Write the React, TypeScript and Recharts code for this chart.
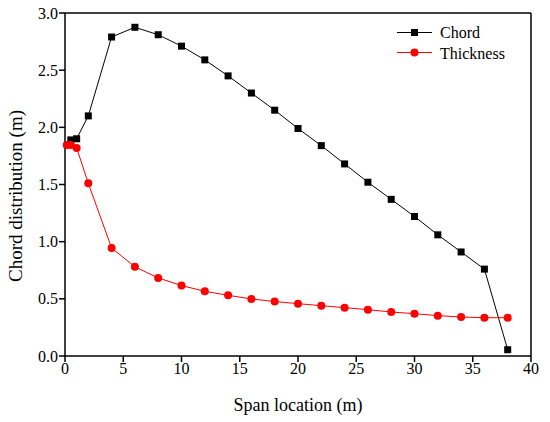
import React from "react";
import { LineChart, Line, XAxis, YAxis, ReferenceLine } from "recharts";

const chordX = [0.5, 1, 2, 4, 6, 8, 10, 12, 14, 16, 18, 20, 22, 24, 26, 28, 30, 32, 34, 36, 38];
const chordY = [1.89, 1.9, 2.1, 2.79, 2.875, 2.81, 2.71, 2.59, 2.45, 2.3, 2.15, 1.99, 1.84, 1.68, 1.52, 1.37, 1.22, 1.06, 0.91, 0.76, 0.055];
const thickX = [0.15, 0.5, 1, 2, 4, 6, 8, 10, 12, 14, 16, 18, 20, 22, 24, 26, 28, 30, 32, 34, 36, 38];
const thickY = [1.845, 1.845, 1.82, 1.51, 0.945, 0.78, 0.683, 0.616, 0.566, 0.531, 0.499, 0.476, 0.458, 0.44, 0.423, 0.405, 0.385, 0.37, 0.353, 0.341, 0.335, 0.335];
const xTicks = [0, 5, 10, 15, 20, 25, 30, 35, 40];
const yTicks = [0, 0.5, 1, 1.5, 2, 2.5, 3];
const seriesNames = ["Chord", "Thickness"];

const chordData = chordX.map((x, i) => ({ x, y: chordY[i] }));
const thickData = thickX.map((x, i) => ({ x, y: thickY[i] }));

const FONT = "Liberation Serif";

const SquareDot = (props: any) => {
  const { cx, cy, index } = props;
  if (cx == null || cy == null) return null;
  return <rect key={`s${index}`} x={cx - 3.5} y={cy - 3.5} width={7} height={7} fill="#000" />;
};

const CircleDot = (props: any) => {
  const { cx, cy, index } = props;
  if (cx == null || cy == null) return null;
  return <circle key={`c${index}`} cx={cx} cy={cy} r={4} fill="#ff0000" />;
};

const XTick = (props: any) => {
  const { x, y, payload } = props;
  return (
    <text x={x} y={y + 12} textAnchor="middle" fontFamily={FONT} fontSize={16} fill="#000">
      {String(payload.value)}
    </text>
  );
};

const YTick = (props: any) => {
  const { x, y, payload } = props;
  return (
    <text x={x} y={y + 5.5} textAnchor="end" fontFamily={FONT} fontSize={16} fill="#000">
      {Number(payload.value).toFixed(1)}
    </text>
  );
};

const YLabel = () => (
  <text x={15} y={196} transform="rotate(-90 15 196)" textAnchor="middle" dominantBaseline="central" fontFamily={FONT} fontSize={19} fill="#000">
    Chord distribution (m)
  </text>
);

const XLabel = () => (
  <text x={298} y={411} textAnchor="middle" fontFamily={FONT} fontSize={18} fill="#000">
    Span location (m)
  </text>
);

export default function App() {
  return (
    <div style={{ position: "absolute", left: 0, top: 0, width: 550, height: 422, background: "#fff", fontFamily: FONT }}>
      <LineChart width={550} height={422} margin={{ top: 13, right: 19, left: 0, bottom: 0 }}>
        <XAxis
          type="number"
          dataKey="x"
          domain={[0, 40]}
          ticks={xTicks}
          allowDuplicatedCategory={false}
          height={66}
          stroke="#000"
          strokeWidth={1.5}
          tickSize={6}
          tickMargin={0}
          tick={XTick}
          label={{ content: XLabel }}
        />
        <YAxis
          type="number"
          dataKey="y"
          domain={[0, 3]}
          ticks={yTicks}
          width={65}
          stroke="#000"
          strokeWidth={1.5}
          tickSize={6}
          tickMargin={1}
          tick={YTick}
          label={{ content: YLabel }}
        />
        <ReferenceLine y={3} stroke="#000" strokeWidth={1.5} ifOverflow="visible" />
        <ReferenceLine x={40} stroke="#000" strokeWidth={1.5} ifOverflow="visible" />
        <Line data={chordData} dataKey="y" name={seriesNames[0]} stroke="#000" strokeWidth={1} dot={SquareDot} activeDot={false} isAnimationActive={false} />
        <Line data={thickData} dataKey="y" name={seriesNames[1]} stroke="#ff0000" strokeWidth={1} dot={CircleDot} activeDot={false} isAnimationActive={false} />
      </LineChart>
      <svg width={130} height={45} style={{ position: "absolute", left: 395, top: 22 }}>
        <line x1={2} x2={37} y1={10.5} y2={10.5} stroke="#000" strokeWidth={1} />
        <rect x={16} y={7} width={7} height={7} fill="#000" />
        <text x={45} y={16} fontFamily={FONT} fontSize={16} fill="#000">{seriesNames[0]}</text>
        <line x1={2} x2={37} y1={30.5} y2={30.5} stroke="#ff0000" strokeWidth={1} />
        <circle cx={19.5} cy={30.5} r={4} fill="#ff0000" />
        <text x={45} y={36.5} fontFamily={FONT} fontSize={16} fill="#000">{seriesNames[1]}</text>
      </svg>
    </div>
  );
}
